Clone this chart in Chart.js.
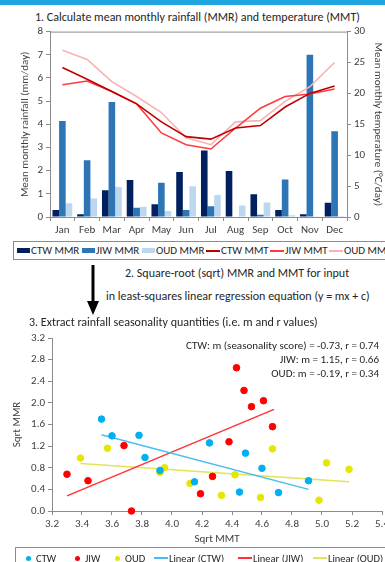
<!DOCTYPE html>
<html>
<head>
<meta charset="utf-8">
<script src="https://cdn.jsdelivr.net/npm/chart.js@4.4.0/dist/chart.umd.min.js"></script>
<style>
  html, body { margin: 0; padding: 0; }
  body { width: 385px; height: 562px; overflow: hidden; position: relative; background: #fff;
         font-family: Carlito, Lato, sans-serif; color: #262626; }
  #topBar { position: absolute; left: 0; top: 0; width: 385px; height: 5px; background: #1ea4df; }
  .txt { position: absolute; white-space: nowrap; font-size: 12px; line-height: 14px; }
  .note { position: absolute; right: 6px; white-space: nowrap; font-size: 11px; line-height: 13px; text-align: right; }
  canvas { position: absolute; left: 0; }
  .legendBox { position: absolute; border: 1px solid #8c8c8c; background: #fff; }
  .lgItem { position: absolute; top: 0; bottom: 0; display: flex; align-items: center; font-size: 11px; white-space: nowrap; }
  #seasonLegend .lgItem { font-size: 10.5px; }
</style>
</head>
<body>
<div id="topBar"></div>
<div class="txt" style="left:35px; top:10px;">1. Calculate mean monthly rainfall (MMR) and temperature (MMT)</div>
<canvas id="rainChart" width="385" height="218" style="top:22px;"></canvas>
<div class="legendBox" id="rainLegend" style="left:13px; top:241px; width:400px; height:17px;"></div>

<div class="txt" style="left:125px; top:266px;">2. Square-root (sqrt) MMR and MMT for input</div>
<div class="txt" style="left:106px; top:289px;">in least-squares linear regression equation (y = mx + c)</div>
<svg style="position:absolute; left:0; top:0;" width="385" height="330">
  <line x1="93" y1="265" x2="93" y2="303" stroke="#000" stroke-width="3"/>
  <polygon points="87,301 99,301 93,315" fill="#000"/>
</svg>

<div class="txt" style="left:29px; top:315px;">3. Extract rainfall seasonality quantities (i.e. m and r values)</div>
<canvas id="seasonChart" width="400" height="218" style="top:328px;"></canvas>
<div class="note" style="top:339px;">CTW: m (seasonality score) = -0.73, r = 0.74</div>
<div class="note" style="top:353px;">JIW: m = 1.15, r = 0.66</div>
<div class="note" style="top:367px;">OUD: m = -0.19, r = 0.34</div>
<div class="legendBox" id="seasonLegend" style="left:15px; top:547px; width:400px; height:20px;"></div>

<script>
var months = ['Jan', 'Feb', 'Mar', 'Apr', 'May', 'Jun', 'Jul', 'Aug', 'Sep', 'Oct', 'Nov', 'Dec'];

// mean monthly rainfall (mm/day)
var ctwMMR = [0.3, 0.12, 1.15, 1.6, 0.55, 1.94, 2.87, 1.98, 0.98, 0.3, 0.12, 0.62];
var jiwMMR = [4.14, 2.45, 4.96, 0.4, 1.48, 0.3, 0.46, 0, 0.1, 1.62, 7.0, 3.7];
var oudMMR = [0.59, 0.8, 1.29, 0.44, 0.26, 1.33, 0.95, 0.5, 0.63, 0.08, 0.03, 0.04];

// mean monthly temperature (deg C)
var ctwMMT = [24.2, 22.3, 20.3, 18.3, 15.4, 13.0, 12.6, 14.4, 14.8, 17.8, 20.0, 21.2];
var jiwMMT = [21.4, 22.0, 20.3, 18.3, 13.6, 11.7, 11.0, 14.4, 17.6, 19.5, 19.9, 20.7];
var oudMMT = [27.0, 25.5, 21.9, 19.5, 16.9, 12.8, 11.7, 15.4, 15.6, 18.7, 21.1, 25.0];

// sqrt MMT (x) / sqrt MMR (y)
var ctwX = [3.53, 3.60, 3.78, 3.82, 3.92, 4.15, 4.25, 4.45, 4.49, 4.60, 4.71, 4.91];
var ctwY = [1.70, 1.39, 1.40, 0.99, 0.75, 0.54, 1.26, 0.35, 1.07, 0.79, 0.34, 0.56];
var jiwX = [3.30, 3.44, 3.68, 3.73, 4.19, 4.27, 4.38, 4.43, 4.48, 4.53, 4.61, 4.67];
var jiwY = [0.68, 0.56, 1.21, 0.00, 0.32, 0.64, 1.28, 2.65, 2.23, 1.93, 2.04, 1.56];
var oudX = [3.39, 3.57, 3.92, 3.95, 4.12, 4.33, 4.42, 4.59, 4.67, 4.98, 5.03, 5.18];
var oudY = [0.98, 1.16, 0.71, 0.80, 0.51, 0.29, 0.67, 0.25, 1.15, 0.20, 0.89, 0.77];

// trend line end points
var ctwFitX = [3.53, 4.91], ctwFitY = [1.41, 0.40];
var jiwFitX = [3.30, 4.68], jiwFitY = [0.28, 1.88];
var oudFitX = [3.39, 5.18], oudFitY = [0.88, 0.54];

var rainTicks = [0, 1, 2, 3, 4, 5, 6, 7, 8];
var tempTicks = [0, 5, 10, 15, 20, 25, 30];

var FONT = 'Carlito, Lato, sans-serif';
var AXIS = '#8c8c8c';

Chart.defaults.font.family = FONT;
Chart.defaults.font.size = 11;
Chart.defaults.color = '#404040';

function pts(xs, ys) {
  return xs.map(function(x, i) { return {x: x, y: ys[i]}; });
}

function axisGrid() {
  return {display: true, drawOnChartArea: false, drawTicks: true, tickLength: 4, color: AXIS};
}

var frame = {
  id: 'frame',
  afterDatasetsDraw: function(c) {
    var a = c.chartArea, g = c.ctx;
    g.save();
    g.strokeStyle = AXIS;
    g.lineWidth = 1;
    g.beginPath();
    g.moveTo(a.left, a.top + 0.5);
    g.lineTo(a.right, a.top + 0.5);
    g.stroke();
    g.restore();
  }
};

var rainChart = new Chart(document.getElementById('rainChart'), {
  type: 'bar',
  data: {
    labels: months,
    datasets: [
      {label: 'CTW MMR', data: ctwMMR, backgroundColor: '#002060', order: 1, yAxisID: 'y'},
      {label: 'JIW MMR', data: jiwMMR, backgroundColor: '#2e75b6', order: 1, yAxisID: 'y'},
      {label: 'OUD MMR', data: oudMMR, backgroundColor: '#bdd7ee', order: 1, yAxisID: 'y'},
      {type: 'line', label: 'CTW MMT', data: ctwMMT, borderColor: '#c00000', backgroundColor: '#c00000',
       borderWidth: 1.6, pointRadius: 0, tension: 0, order: 0, yAxisID: 'y1'},
      {type: 'line', label: 'JIW MMT', data: jiwMMT, borderColor: '#ff3b3b', backgroundColor: '#ff3b3b',
       borderWidth: 1.6, pointRadius: 0, tension: 0, order: 0, yAxisID: 'y1'},
      {type: 'line', label: 'OUD MMT', data: oudMMT, borderColor: '#f7b3b3', backgroundColor: '#f7b3b3',
       borderWidth: 1.6, pointRadius: 0, tension: 0, order: 0, yAxisID: 'y1'}
    ]
  },
  options: {
    responsive: false,
    animation: false,
    categoryPercentage: 0.8,
    barPercentage: 1.0,
    layout: {padding: {top: 9, left: 0, right: 0, bottom: 0}},
    plugins: {legend: {display: false}, tooltip: {enabled: false}},
    scales: {
      x: {
        grid: Object.assign(axisGrid(), {offset: true}),
        border: {display: true, color: AXIS},
        ticks: {padding: 3, maxRotation: 0},
        afterFit: function(s) { s.height = 23; }
      },
      y: {
        position: 'left', min: 0, max: 8,
        grid: axisGrid(),
        border: {display: true, color: AXIS},
        afterBuildTicks: function(s) { s.ticks = rainTicks.map(function(v) { return {value: v}; }); },
        ticks: {padding: 3},
        title: {display: true, text: 'Mean monthly rainfall (mm/day)', padding: {top: 19, bottom: 0}},
        afterFit: function(s) { s.width = 50; }
      },
      y1: {
        position: 'right', min: 0, max: 30,
        grid: axisGrid(),
        border: {display: true, color: AXIS},
        afterBuildTicks: function(s) { s.ticks = tempTicks.map(function(v) { return {value: v}; }); },
        ticks: {padding: 3},
        title: {display: true, text: 'Mean monthly temperature (\u00B0C/day)', padding: {top: 0.5, bottom: 0}},
        afterFit: function(s) { s.width = 38; }
      }
    }
  },
  plugins: [frame]
});

var seasonChart = new Chart(document.getElementById('seasonChart'), {
  type: 'scatter',
  data: {
    datasets: [
      {label: 'CTW', data: pts(ctwX, ctwY), backgroundColor: '#00b0f0', borderColor: '#00b0f0', pointRadius: 3.3, clip: false},
      {label: 'JIW', data: pts(jiwX, jiwY), backgroundColor: '#ff0000', borderColor: '#ff0000', pointRadius: 3.3, clip: false},
      {label: 'OUD', data: pts(oudX, oudY), backgroundColor: '#e6e600', borderColor: '#e6e600', pointRadius: 3.3, clip: false},
      {type: 'line', label: 'Linear (CTW)', data: pts(ctwFitX, ctwFitY), borderColor: '#45bdf0', backgroundColor: '#45bdf0',
       borderWidth: 1.5, pointRadius: 0, showLine: true},
      {type: 'line', label: 'Linear (JIW)', data: pts(jiwFitX, jiwFitY), borderColor: '#ff3333', backgroundColor: '#ff3333',
       borderWidth: 1.5, pointRadius: 0, showLine: true},
      {type: 'line', label: 'Linear (OUD)', data: pts(oudFitX, oudFitY), borderColor: '#e3e35a', backgroundColor: '#e3e35a',
       borderWidth: 1.5, pointRadius: 0, showLine: true}
    ]
  },
  options: {
    responsive: false,
    animation: false,
    layout: {padding: {top: 10, left: 0, right: 18, bottom: 0}},
    plugins: {legend: {display: false}, tooltip: {enabled: false}},
    scales: {
      x: {
        type: 'linear', min: 3.2, max: 5.4,
        grid: axisGrid(),
        border: {display: true, color: AXIS},
        ticks: {stepSize: 0.2, padding: 3, maxRotation: 0, callback: function(v) { return v.toFixed(1); }},
        title: {display: true, text: 'Sqrt MMT', padding: {top: 0, bottom: 0}},
        afterFit: function(s) { s.height = 35; }
      },
      y: {
        min: 0, max: 3.2,
        grid: axisGrid(),
        border: {display: true, color: AXIS},
        ticks: {stepSize: 0.4, padding: 3, callback: function(v) { return v.toFixed(1); }},
        title: {display: true, text: 'Sqrt MMR', padding: {top: 11, bottom: 0}},
        afterFit: function(s) { s.width = 52; }
      }
    }
  }
});

// html legends built from the datasets
function buildLegend(boxId, chart, lefts, kinds) {
  var box = document.getElementById(boxId);
  chart.data.datasets.forEach(function(ds, i) {
    var item = document.createElement('div');
    item.className = 'lgItem';
    item.style.left = lefts[i] + 'px';
    var sw = document.createElement('span');
    sw.style.display = 'inline-block';
    if (kinds[i] === 'box') {
      sw.style.width = '13px'; sw.style.height = '5px'; sw.style.background = ds.backgroundColor;
      sw.style.marginRight = '1px';
    } else if (kinds[i] === 'line') {
      sw.style.width = '14px'; sw.style.height = '2px'; sw.style.background = ds.borderColor;
      sw.style.marginRight = '1px';
    } else {
      sw.style.width = '5px'; sw.style.height = '5px'; sw.style.borderRadius = '50%';
      sw.style.background = ds.backgroundColor; sw.style.marginRight = '5px';
    }
    item.appendChild(sw);
    item.appendChild(document.createTextNode(ds.label));
    box.appendChild(item);
  });
}

buildLegend('rainLegend', rainChart, [3, 68, 128, 192, 256, 315], ['box', 'box', 'box', 'line', 'line', 'line']);
buildLegend('seasonLegend', seasonChart, [10, 59, 99, 138, 222, 297], ['dot', 'dot', 'dot', 'line', 'line', 'line']);
</script>
</body>
</html>
